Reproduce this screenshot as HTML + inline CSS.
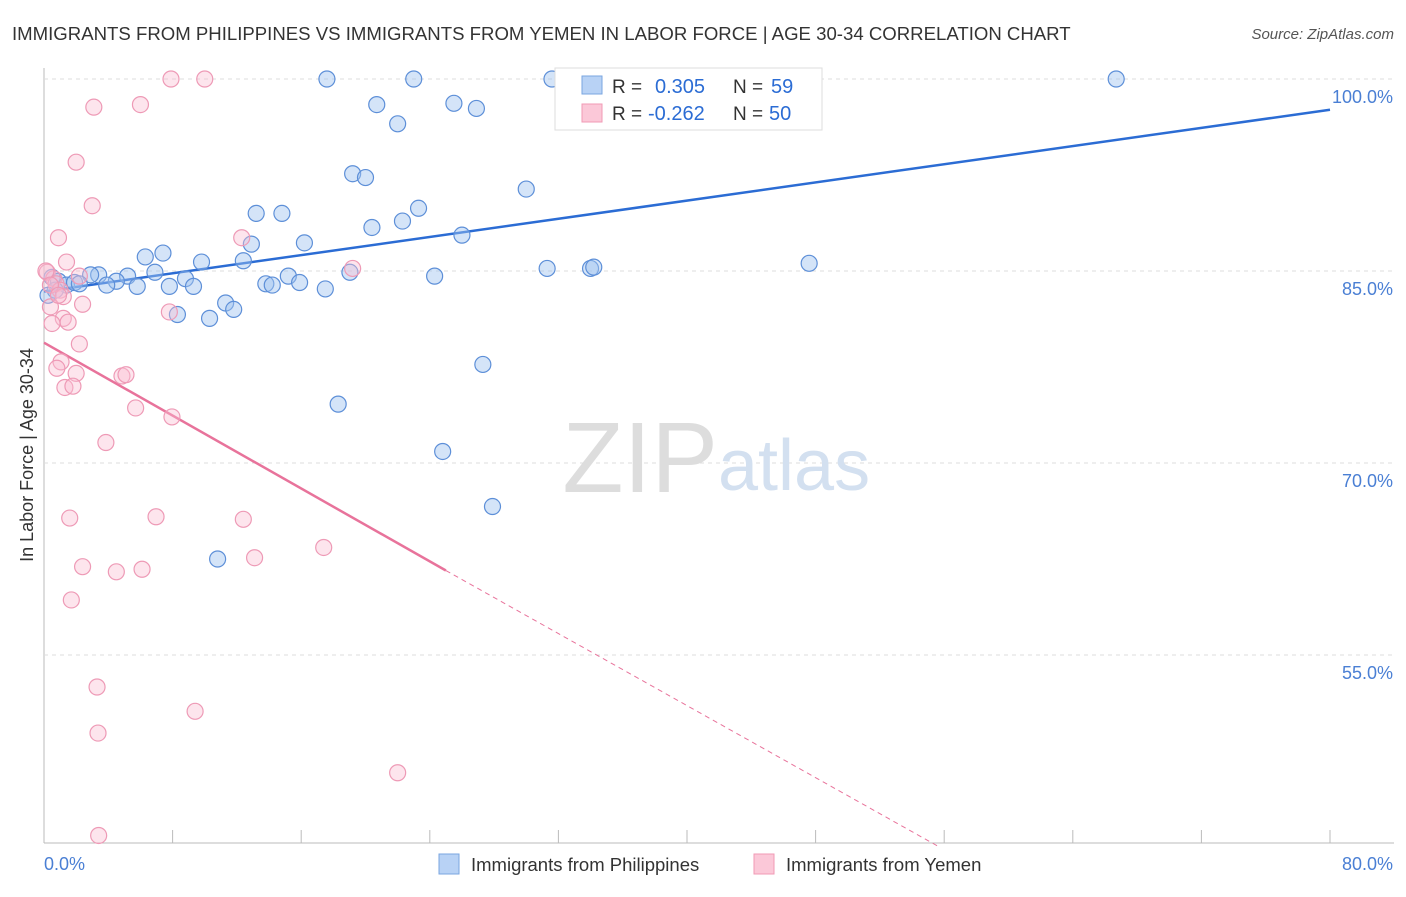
<!DOCTYPE html>
<html><head><meta charset="utf-8"><style>
body{margin:0;background:#fff;font-family:"Liberation Sans",sans-serif}
svg text{font-family:"Liberation Sans",sans-serif}
</style></head><body>
<svg width="1406" height="892">
<text x="12" y="40" font-size="18.6" fill="#333">IMMIGRANTS FROM PHILIPPINES VS IMMIGRANTS FROM YEMEN IN LABOR FORCE | AGE 30-34 CORRELATION CHART</text>
<text x="1394" y="39" font-size="15" fill="#555" text-anchor="end" font-style="italic">Source: ZipAtlas.com</text>
<g id="grid"></g>
<text x="718" y="492" font-size="100" fill="#ddd" text-anchor="end" font-family="Liberation Serif">ZIP</text>
<text x="718" y="490" font-size="72" fill="#d3e0f0">atlas</text>
<text transform="translate(33,455) rotate(-90)" font-size="18" fill="#333" text-anchor="middle">In Labor Force | Age 30-34</text>
<g id="lines"></g><g id="pts"></g>
<g>
<rect x="555" y="68" width="267" height="62" fill="#fff" stroke="#ddd"/>
<rect x="582" y="76" width="20" height="18" fill="#b8d2f5" stroke="#7aa6e0"/>
<text x="612" y="93" font-size="19" fill="#333">R =</text>
<text x="655" y="93" font-size="20" fill="#2b6cd4">0.305</text>
<text x="733" y="93" font-size="19" fill="#333">N =</text>
<text x="771" y="93" font-size="20" fill="#2b6cd4">59</text>
<rect x="582" y="104" width="20" height="18" fill="#fbc8d8" stroke="#f09ab5"/>
<text x="612" y="120" font-size="19" fill="#333">R =</text>
<text x="648" y="120" font-size="20" fill="#2b6cd4">-0.262</text>
<text x="733" y="120" font-size="19" fill="#333">N =</text>
<text x="769" y="120" font-size="20" fill="#2b6cd4">50</text>
</g>
<g>
<rect x="439" y="854" width="20" height="20" fill="#b8d2f5" stroke="#7aa6e0"/>
<text x="471" y="871" font-size="18.5" fill="#333">Immigrants from Philippines</text>
<rect x="754" y="854" width="20" height="20" fill="#fbc8d8" stroke="#f09ab5"/>
<text x="786" y="871" font-size="18.5" fill="#333">Immigrants from Yemen</text>
</g>
</svg>
<script>
const xTicks=[0,8,16,24,32,40,48,56,64,72,80];
const yTicks=[55,70,85,100];
const blueX=[17.6,23,31.6,66.7,20.7,25.5,26.9,22,19.2,20,30,23.3,13.2,14.8,22.3,20.4,26,16.2,12.9,7.4,6.3,9.8,12.4,6.9,5.2,3.4,2.9,4.5,5.8,3.9,8.8,7.8,9.3,15.2,13.8,14.2,15.9,17.5,19.03,24.3,31.3,34,34.2,47.6,11.3,11.8,8.3,10.3,0.5,0.9,1.4,1.9,2.2,0.7,0.25,27.3,18.3,24.8,27.9,10.8];
const blueY=[100,100,100,100,98,98.1,97.7,96.5,92.6,92.3,91.4,89.9,89.5,89.5,88.9,88.4,87.8,87.2,87.1,86.4,86.1,85.7,85.8,84.9,84.6,84.7,84.7,84.2,83.8,83.9,84.4,83.8,83.8,84.6,84,83.9,84.1,83.6,84.9,84.6,85.2,85.2,85.3,85.6,82.5,82,81.6,81.3,84.5,84.2,83.9,84.1,84,83.5,83.1,77.7,74.6,70.9,66.6,62.5];
const pinkX=[7.9,10,3.1,6,2,3,0.9,12.3,1.4,2.2,19.2,0.2,0.6,0.75,1,1.2,2.4,7.8,0.4,1.2,1.5,0.5,2.2,1.06,0.8,2,1.3,1.8,4.85,5.1,5.7,7.96,3.85,1.6,6.97,12.4,17.4,13.1,2.4,4.5,6.1,1.7,3.3,9.4,3.36,22,3.4,0.12,0.4,0.9];
const pinkY=[100,100,97.8,98,93.5,90.1,87.6,87.6,85.7,84.6,85.2,84.9,84.4,84,83.5,83,82.4,81.8,82.2,81.3,81,80.9,79.3,77.9,77.4,77,75.9,76,76.8,76.9,74.3,73.6,71.6,65.7,65.8,65.6,63.4,62.6,61.9,61.5,61.7,59.3,52.5,50.6,48.9,45.8,40.9,85,83.9,83.1];
const X=v=>44+v*16.075, Y=v=>79+(100-v)*12.8;
const NS="http://www.w3.org/2000/svg";
function mk(t,a,p){const e=document.createElementNS(NS,t);for(const k in a)e.setAttribute(k,a[k]);p.appendChild(e);return e;}
const grid=document.getElementById('grid');
mk('line',{x1:44,y1:68,x2:44,y2:843,stroke:'#bbb'},grid);
mk('line',{x1:44,y1:843,x2:1394,y2:843,stroke:'#bbb'},grid);
xTicks.forEach(t=>{const l=mk('line',{x1:X(t),y1:830,x2:X(t),y2:843,stroke:'#bbb'},grid);

});
yTicks.forEach(t=>{const l=mk('line',{x1:44,y1:Y(t),x2:1394,y2:Y(t),stroke:'#ddd','stroke-dasharray':'4,4'},grid);


const tx=mk('text',{x:1393,y:Y(t)+24,'font-size':18,fill:'#4a7fd4','text-anchor':'end'},grid);tx.textContent=t.toFixed(1)+'%';

});
[[0,44,'start'],[80,1393,'end']].forEach(([v,x,a])=>{const tx=mk('text',{x:x,y:870,'font-size':18,fill:'#4a7fd4','text-anchor':a},grid);tx.textContent=v.toFixed(1)+'%';

});
const pts=document.getElementById('pts');
blueX.forEach((x,i)=>{const c=mk('circle',{cx:X(x),cy:Y(blueY[i]),r:8,fill:'rgba(160,195,240,0.45)',stroke:'#5d8fd8','stroke-width':1.2},pts);

});
pinkX.forEach((x,i)=>{const c=mk('circle',{cx:X(x),cy:Y(pinkY[i]),r:8,fill:'rgba(250,190,210,0.4)',stroke:'#ee9ab6','stroke-width':1.2},pts);

});
const lines=document.getElementById('lines');
let l=mk('line',{x1:X(0),y1:Y(83.4),x2:X(80),y2:Y(97.6),stroke:'#2b6cd4','stroke-width':2.5},lines);


l=mk('line',{x1:X(0),y1:Y(79.4),x2:X(25),y2:Y(61.6),stroke:'#e8739b','stroke-width':2.5},lines);


l=mk('line',{x1:X(25),y1:Y(61.6),x2:X(55.7),y2:Y(40),stroke:'#e8739b','stroke-width':1,'stroke-dasharray':'5,4'},lines);


</script>
</body></html>
